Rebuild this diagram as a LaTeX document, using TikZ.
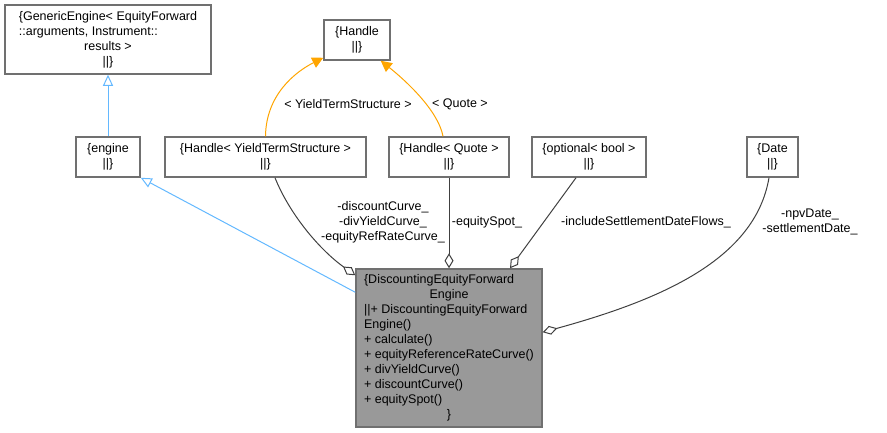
\documentclass[tikz,border=0pt]{standalone}
\usepackage{fontspec}
\setmainfont{Liberation Sans}
\usetikzlibrary{calc}
\usetikzlibrary{arrows.meta}

\definecolor{boxgray}{HTML}{707070}
\definecolor{edgegray}{HTML}{404040}
\definecolor{inhblue}{HTML}{63B8FF}
\definecolor{tplorange}{HTML}{FFA500}
\definecolor{mainfill}{HTML}{999999}

\begin{document}
\begin{tikzpicture}[x=1pt,y=-1pt,
  font=\fontsize{12.5}{15}\selectfont,
  box/.style={draw=boxgray,fill=white,line width=1.5pt,inner sep=0pt,align=center},
  inherit/.style={draw=inhblue,line width=1pt,-{Triangle[open,fill=white,length=11pt,width=10pt]}},
  tpl/.style={draw=tplorange,line width=1pt,-{Triangle[length=11pt,width=11pt]}},
  agg/.style={draw=edgegray,line width=1pt,-{Diamond[open,fill=white,length=15pt,width=9pt]}},
  lbl/.style={inner sep=0pt,align=center}]
  % Boundary
  \path[use as bounding box] (0,0) rectangle (887,432);
  % Classes
  \node[box,minimum width=206pt,minimum height=69pt] (gen) at (108,39.5)
    {\begin{tabular}{@{}l@{}}\{GenericEngine< EquityForward\\::arguments, Instrument::\\
     \multicolumn{1}{@{}c@{}}{results >}\\\multicolumn{1}{@{}c@{}}{||\}}\end{tabular}};
  \node[box,minimum width=66pt,minimum height=40pt] (handle) at (357,40) {\{Handle\\||\}};
  \node[box,minimum width=64pt,minimum height=40pt] (engine) at (108,157) {\{engine\\||\}};
  \node[box,minimum width=201pt,minimum height=40pt] (hyts) at (265.5,157) {\{Handle< YieldTermStructure >\\||\}};
  \node[box,minimum width=120pt,minimum height=40pt] (hquote) at (449,157) {\{Handle< Quote >\\||\}};
  \node[box,minimum width=114pt,minimum height=40pt] (opt) at (589,157) {\{optional< bool >\\||\}};
  \node[box,minimum width=51pt,minimum height=40pt] (date) at (772.5,157) {\{Date\\||\}};
  \node[box,fill=mainfill,minimum width=186pt,minimum height=158pt] (main) at (449,348)
    {\begin{tabular}{@{}l@{}}\{DiscountingEquityForward\\\multicolumn{1}{@{}c@{}}{Engine}\\
     ||+ DiscountingEquityForward\\Engine()\\+ calculate()\\+ equityReferenceRateCurve()\\
     + divYieldCurve()\\+ discountCurve()\\+ equitySpot()\\\multicolumn{1}{@{}c@{}}{\}}\end{tabular}};
  % Inheritance
  \draw[inherit] (engine.north) -- (gen.south);
  \draw[inherit] ($(main.north west)+(0,24)$) -- (engine.south east);
  % Templates
  \draw[tpl] (hyts.north) .. controls (266,95) and (295,72) .. ($(handle.south west)+(0,-3)$);
  \draw[tpl] ($(hquote.north)+(-6,0)$) .. controls (438,110) and (405,80) .. ($(handle.south east)+(-10,0)$);
  \node[lbl] (lblyts) at (348,104) {< YieldTermStructure >};
  \node[lbl] (lblquote) at (460,104) {< Quote >};
  % Members
  \draw[agg] ($(hyts.south)+(9.5,0)$) .. controls (290,215) and (320,250) .. ($(main.north west)+(0,7)$);
  \draw[agg] (hquote.south) -- (main.north);
  \draw[agg] ($(opt.south)+(-13,0)$) -- ($(main.north)+(61,0)$);
  \draw[agg] ($(date.south)+(-3.5,0)$) .. controls (755,260) and (660,300) .. ($(main.north east)+(0,64)$);
  \node[lbl] (lblcurves) at (383,222) {-discountCurve\_\\-divYieldCurve\_\\-equityRefRateCurve\_};
  \node[lbl] (lblspot) at (487,222) {-equitySpot\_};
  \node[lbl] (lblflows) at (646,222) {-includeSettlementDateFlows\_};
  \node[lbl] (lbldates) at (810,222) {-npvDate\_\\-settlementDate\_};
\end{tikzpicture}
\end{document}
